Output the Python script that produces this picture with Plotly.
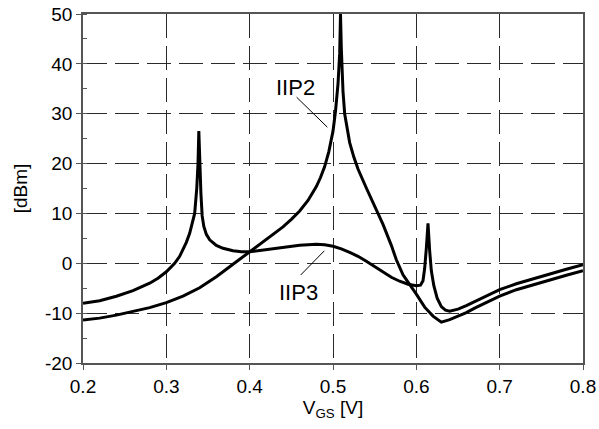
import plotly.graph_objects as go

# IIP3 curve (two peaks)
iip3_x = [0.20, 0.22, 0.24, 0.26, 0.28, 0.29, 0.30, 0.31, 0.316, 0.32, 0.324, 0.328, 0.331,
          0.334, 0.3365, 0.338, 0.339, 0.340, 0.3415, 0.343, 0.345, 0.348, 0.352, 0.36,
          0.368, 0.38, 0.39, 0.40, 0.42, 0.44, 0.46, 0.48, 0.49, 0.50, 0.51, 0.52, 0.53,
          0.54, 0.55, 0.56, 0.57, 0.58, 0.59, 0.60, 0.605, 0.608, 0.610, 0.612, 0.614,
          0.616, 0.618, 0.621, 0.625, 0.63, 0.635, 0.64, 0.65, 0.66, 0.67, 0.68, 0.69,
          0.70, 0.72, 0.75, 0.78, 0.80]
iip3_y = [-8.0, -7.5, -6.6, -5.5, -4.0, -3.0, -1.7, 0.0, 1.4, 2.8, 4.2, 6.0, 7.8,
          10.0, 15.0, 20.0, 26.5, 20.0, 14.0, 9.5, 7.4, 5.8, 4.7, 3.6,
          3.0, 2.5, 2.3, 2.3, 2.7, 3.2, 3.6, 3.8, 3.7, 3.4, 2.9, 2.2, 1.4,
          0.4, -0.7, -1.8, -2.8, -3.6, -4.2, -4.5, -4.4, -3.5, -1.0, 3.0, 8.0,
          2.5, -1.5, -4.5, -7.0, -8.7, -9.4, -9.6, -9.2, -8.5, -7.7, -6.9, -6.1,
          -5.3, -4.1, -2.6, -1.2, -0.3]

# IIP2 curve (one peak)
iip2_x = [0.20, 0.22, 0.24, 0.26, 0.28, 0.30, 0.32, 0.34, 0.36, 0.38, 0.40, 0.42, 0.44,
          0.45, 0.46, 0.47, 0.48, 0.485, 0.49, 0.495, 0.50, 0.503, 0.506, 0.508, 0.509,
          0.510, 0.512, 0.514, 0.517, 0.52, 0.525, 0.53, 0.54, 0.55, 0.56, 0.57, 0.576,
          0.584, 0.592, 0.60, 0.61, 0.62, 0.63, 0.64, 0.65, 0.66, 0.67, 0.68, 0.69, 0.70,
          0.72, 0.75, 0.78, 0.80]
iip2_y = [-11.4, -11.0, -10.4, -9.7, -8.9, -7.9, -6.6, -4.9, -2.7, -0.2, 2.3, 4.8, 7.3,
          8.8, 10.5, 12.6, 15.4, 17.2, 19.4, 22.4, 26.5, 30.5, 36.0, 42.0, 50.0,
          43.0, 34.5, 30.0, 26.6, 24.2, 21.3, 18.9, 15.1, 11.5, 7.8, 3.6, 0.7,
          -2.3, -4.2, -6.2, -8.8, -10.6, -11.8, -11.3, -10.6, -9.9, -9.0, -8.2, -7.4, -6.6,
          -5.3, -3.8, -2.4, -1.5]

x_ticks = [0.2, 0.3, 0.4, 0.5, 0.6, 0.7, 0.8]
x_ticklabels = ["0.2", "0.3", "0.4", "0.5", "0.6", "0.7", "0.8"]
y_ticks = [-20, -10, 0, 10, 20, 30, 40, 50]
y_ticklabels = ["-20", "-10", "0", "10", "20", "30", "40", "50"]

FONT = "Liberation Sans, Arial, sans-serif"
GRID = "#2a2a2a"
AXIS = "#555555"

fig = go.Figure()
fig.add_trace(go.Scatter(x=iip3_x, y=iip3_y, mode="lines", name="IIP3",
                         line=dict(color="black", width=3)))
fig.add_trace(go.Scatter(x=iip2_x, y=iip2_y, mode="lines", name="IIP2",
                         line=dict(color="black", width=3)))

fig.update_layout(
    width=599, height=429,
    margin=dict(l=83, r=16, t=14, b=66, autoexpand=False),
    paper_bgcolor="white", plot_bgcolor="white",
    showlegend=False,
    font=dict(family=FONT, size=19, color="black"),
    xaxis=dict(
        range=[0.2, 0.8], tickvals=x_ticks, ticktext=x_ticklabels,
        showgrid=True, gridcolor=GRID, gridwidth=1.3, griddash="24px,8px",
        showline=True, linecolor=AXIS, linewidth=1.5, mirror=True,
        ticks="outside", ticklen=5, tickcolor=AXIS, zeroline=False,
        tickfont=dict(size=19), automargin=False,
        title=dict(text="V<sub>GS</sub> [V]", font=dict(size=19), standoff=4),
    ),
    yaxis=dict(
        range=[-20, 50], tickvals=y_ticks, ticktext=y_ticklabels,
        showgrid=True, gridcolor=GRID, gridwidth=1.3, griddash="24px,8px",
        showline=True, linecolor=AXIS, linewidth=1.5, mirror=True,
        ticks="outside", ticklen=5, tickcolor=AXIS, zeroline=False,
        minor=dict(dtick=5, tick0=0, ticks="inside", ticklen=4, tickcolor=AXIS, showgrid=False),
        tickfont=dict(size=19), automargin=False,
        title=dict(text="[dBm]", font=dict(size=19), standoff=12),
    ),
    yaxis2=dict(
        range=[-20, 50], overlaying="y", side="right", showgrid=False,
        showticklabels=False, ticks="", zeroline=False, showline=False,
        tickvals=y_ticks, automargin=False,
        minor=dict(dtick=5, tick0=0, ticks="inside", ticklen=4, tickcolor=AXIS, showgrid=False),
    ),
)

fig.add_annotation(x=0.4544, y=35.3, text="IIP2", showarrow=False,
                   font=dict(size=22, family=FONT, color="black"))
fig.add_annotation(x=0.458, y=-5.8, text="IIP3", showarrow=False,
                   font=dict(size=22, family=FONT, color="black"))
fig.add_shape(type="line", x0=0.4564, y0=33.3, x1=0.4932, y1=27.3,
              line=dict(color="black", width=1))
fig.add_shape(type="line", x0=0.4612, y0=-2.35, x1=0.4896, y1=2.5,
              line=dict(color="black", width=1))

fig.write_html("out.html", config={"displayModeBar": False},
               post_script="document.body.style.margin='0';document.body.style.overflow='hidden';")
